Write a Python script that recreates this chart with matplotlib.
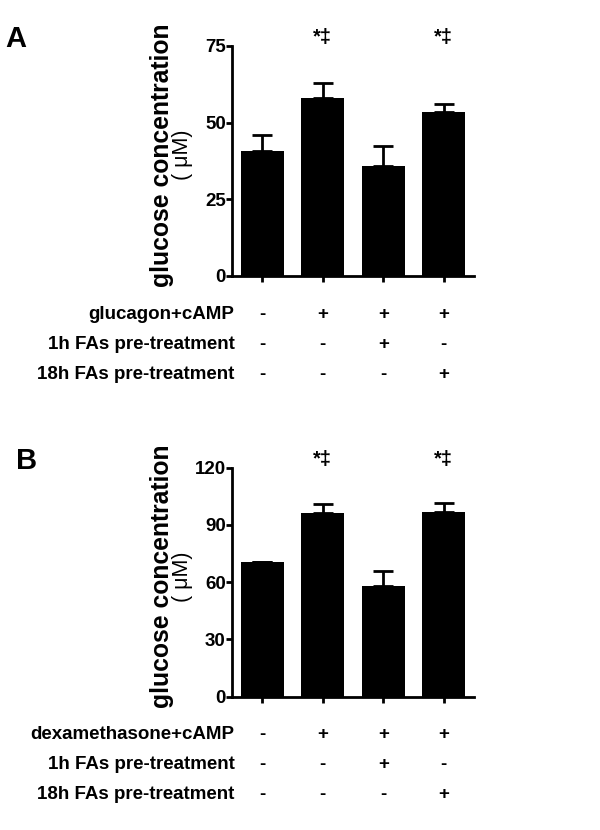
import numpy as np
import matplotlib
matplotlib.use('Agg')
import matplotlib.pyplot as plt

plt.rcParams['font.family'] = ['Liberation Sans', 'DejaVu Sans']

# panel A
a_means = [40.9, 58.1, 35.9, 53.6]
a_errs = [5.2, 4.9, 6.5, 2.6]
a_ticks = [0, 25, 50, 75]
a_rows = ['glucagon+cAMP', '1h FAs pre-treatment', '18h FAs pre-treatment']

# panel B
b_means = [70.4, 96.3, 58.2, 96.9]
b_errs = [0.0, 4.7, 7.8, 4.6]
b_ticks = [0, 30, 60, 90, 120]
b_rows = ['dexamethasone+cAMP', '1h FAs pre-treatment', '18h FAs pre-treatment']

signs = [['-', '+', '+', '+'],
         ['-', '-', '+', '-'],
         ['-', '-', '-', '+']]
stars = ['', '*\u2021', '', '*\u2021']


def draw_panel(fig, rect, means, errs, ticks, rows, letter, letter_xy):
    ax = fig.add_axes(rect)
    x = np.arange(len(means))
    ax.bar(x, means, width=0.71, color='black', zorder=2)
    ax.errorbar(x, means, yerr=[np.zeros(len(errs)), errs], fmt='none',
                ecolor='black', elinewidth=2, capsize=7.5, capthick=2,
                zorder=1)
    ax.set_xlim(-0.5, 3.5)
    ax.set_ylim(0, ticks[-1])
    ax.set_yticks(ticks)
    ax.set_xticks(x)
    ax.set_xticklabels([])
    for s in ['top', 'right']:
        ax.spines[s].set_visible(False)
    for s in ['left', 'bottom']:
        ax.spines[s].set_linewidth(2)
    ax.tick_params(width=2, length=4, labelsize=13.5, pad=0.5)
    for lab in ax.get_yticklabels():
        lab.set_fontweight('bold')
    ax.text(-0.29, 0.525, 'glucose concentration', transform=ax.transAxes,
            rotation=90, ha='center', va='center', fontsize=17.8,
            fontweight='bold')
    ax.text(-0.205, 0.525, '( \u03bcM)', transform=ax.transAxes,
            rotation=90, ha='center', va='center', fontsize=15.5)
    for xi, st in zip(x, stars):
        if st:
            ax.text(xi, 1.035, st, transform=ax.get_xaxis_transform(),
                    ha='center', va='center', fontsize=14.5,
                    fontweight='bold')
    fig.text(letter_xy[0], letter_xy[1], letter, fontsize=21,
             fontweight='bold', ha='left', va='center')
    # treatment table below axis
    for r, (name, row) in enumerate(zip(rows, signs)):
        yy = -0.167 - r * 0.131
        ax.text(0.01, yy, name, transform=ax.transAxes, ha='right',
                va='center', fontsize=13.5, fontweight='bold')
        for xi, sg in zip(x, row):
            ax.text(xi, yy, sg, transform=ax.get_xaxis_transform(),
                    ha='center', va='center', fontsize=13.5,
                    fontweight='bold')
    return ax


fig = plt.figure(figsize=(6, 8.3), dpi=100)
draw_panel(fig, [0.3867, 0.6675, 0.4033, 0.2771], a_means, a_errs,
           a_ticks, a_rows, 'A', (0.008, 0.953))
draw_panel(fig, [0.3867, 0.1606, 0.4033, 0.2759], b_means, b_errs,
           b_ticks, b_rows, 'B', (0.027, 0.444))
fig.savefig('out.png', dpi=100, facecolor='white')
